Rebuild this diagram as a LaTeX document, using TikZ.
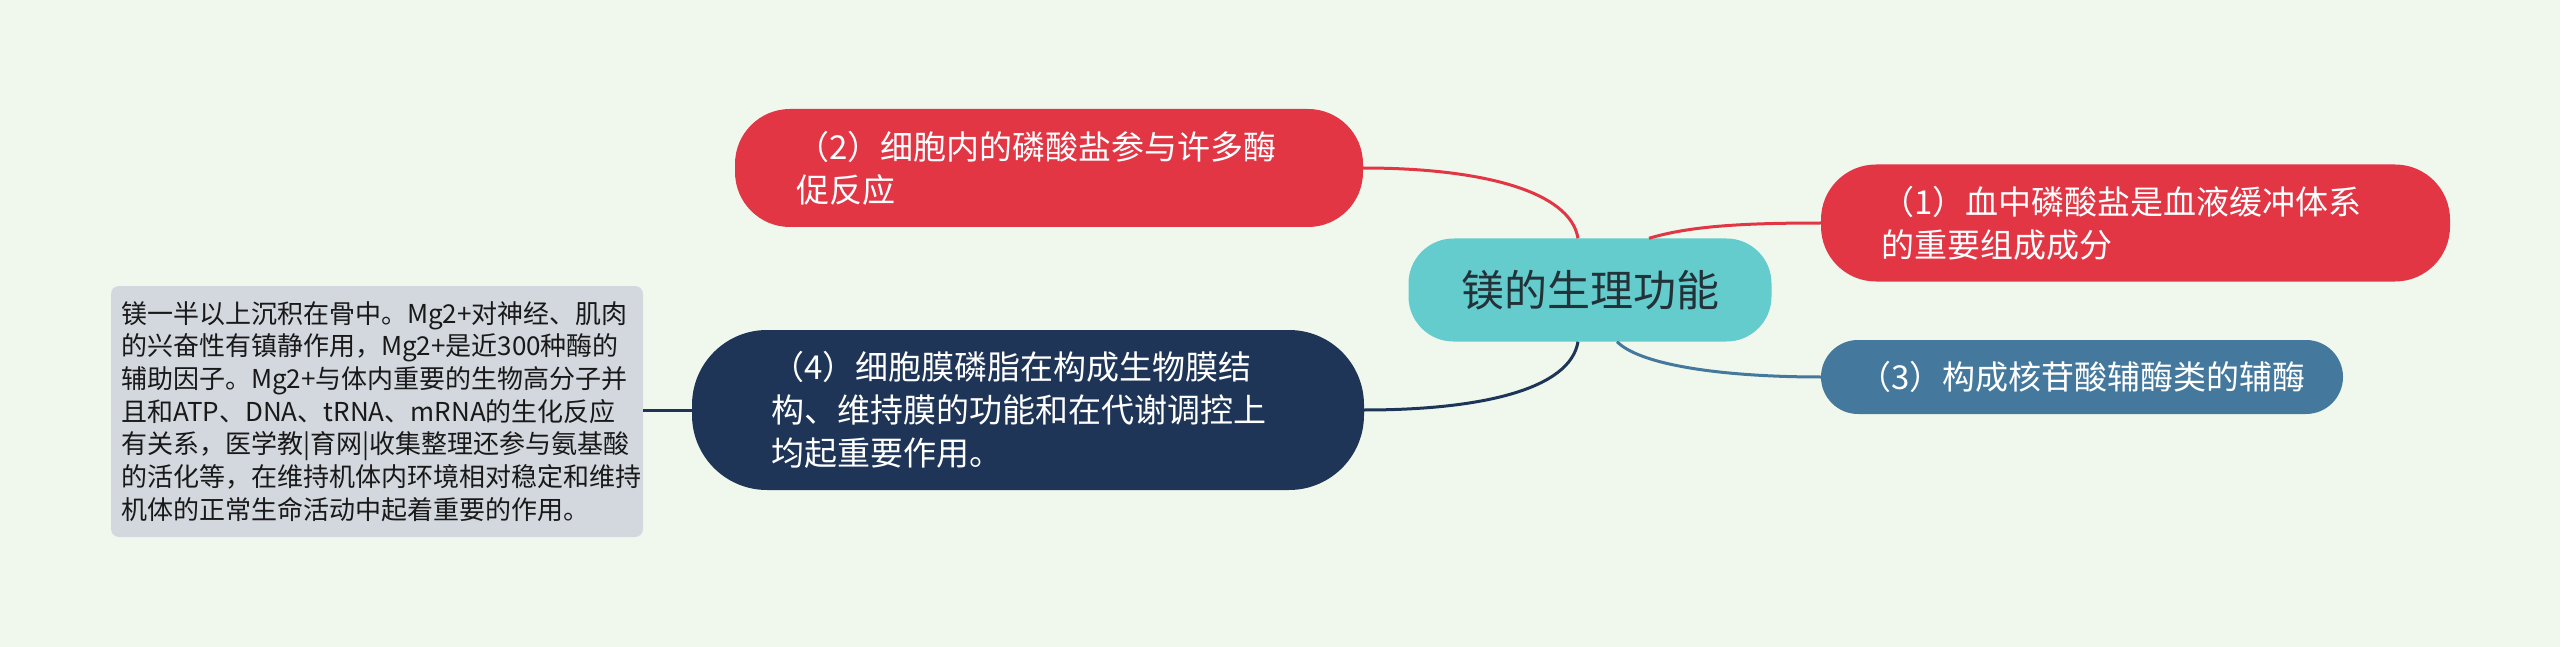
\documentclass[tikz,border=0pt]{standalone}
\usepackage{fontspec}
\setmainfont{Noto Sans CJK SC}
\usetikzlibrary{calc}
\definecolor{bgc}{HTML}{F0F8EE}
\definecolor{redc}{HTML}{E23645}
\definecolor{navyc}{HTML}{1E3557}
\definecolor{tealc}{HTML}{64CCCC}
\definecolor{bluec}{HTML}{44799D}
\definecolor{grayc}{HTML}{D3D8DF}
\definecolor{darkt}{HTML}{233238}
\begin{document}
\begin{tikzpicture}[x=1pt,y=-1pt,
  branch/.style={inner ysep=0pt, align=left, text=white, font=\fontsize{33}{43}\selectfont},
  conn/.style={line width=3pt}]
\fill[bgc] (0,0) rectangle (2560,647);
% center
\node[fill=tealc, rounded corners=45pt, minimum width=363pt, minimum height=103pt, text=darkt,
      font=\fontsize{43}{50}\selectfont, inner sep=0pt] (ctr) at (1590,290) {镁的生理功能};
% branches
\node[branch, fill=redc, rounded corners=55pt, minimum height=118pt, inner xsep=61pt, text width=506pt]
  (n2) at (1049,168) {（2）细胞内的磷酸盐参与许多酶\\促反应};
\node[branch, fill=navyc, rounded corners=75pt, minimum height=160pt, inner xsep=79pt, text width=514pt]
  (n4) at (1028,410) {（4）细胞膜磷脂在构成生物膜结\\构、维持膜的功能和在代谢调控上\\均起重要作用。};
\node[branch, fill=redc, rounded corners=55pt, minimum height=117pt, inner xsep=60pt, text width=509pt]
  (n1) at (2135.5,223) {（1）血中磷酸盐是血液缓冲体系\\的重要组成成分};
\node[branch, fill=bluec, rounded corners=37pt, minimum height=74pt, minimum width=522pt, inner xsep=0pt, align=center]
  (n3) at (2082,377) {（3）构成核苷酸辅酶类的辅酶};
% detail box
\node[fill=grayc, rounded corners=8pt, minimum height=251pt, inner xsep=10pt, inner ysep=0pt, text width=512pt,
      align=left, text=black!90, font=\fontsize{26}{32.7}\selectfont]
  (g) at (377,411.5) {镁一半以上沉积在骨中。Mg2+对神经、肌肉\\的兴奋性有镇静作用，Mg2+是近300种酶的\\辅助因子。Mg2+与体内重要的生物高分子并\\且和ATP、DNA、tRNA、mRNA的生化反应\\有关系，医学教|育网|收集整理还参与氨基酸\\的活化等，在维持机体内环境相对稳定和维持\\机体的正常生命活动中起着重要的作用。};
% connectors
\draw[conn, redc] ([xshift=-12pt]ctr.north) .. controls ($([xshift=-12pt]ctr.north)+(-8,-48)$) and ($(n2.east)+(116,0)$) .. (n2.east);
\draw[conn, navyc] ([xshift=-12pt]ctr.south) .. controls ($([xshift=-12pt]ctr.south)+(-8,48)$) and ($(n4.east)+(116,0)$) .. (n4.east);
\draw[conn, redc] ([xshift=59pt]ctr.north) .. controls ($([xshift=59pt]ctr.north)+(40,-12)$) and ($(n1.west)+(-80,0)$) .. (n1.west);
\draw[conn, bluec] ([xshift=27pt]ctr.south) .. controls ($([xshift=27pt]ctr.south)+(25,25)$) and ($(n3.west)+(-90,0)$) .. (n3.west);
\draw[conn, navyc] (n4.west) -- (n4.west -| g.east);
\end{tikzpicture}
\end{document}
